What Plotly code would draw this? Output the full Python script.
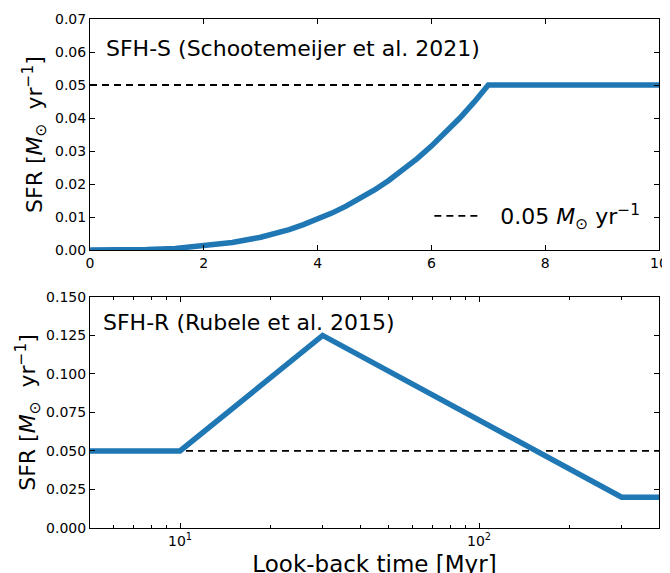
import plotly.graph_objects as go
from plotly.subplots import make_subplots

# Top panel: SFH-S
t_s = [0, 0.5, 1, 1.5, 2, 2.5, 3, 3.25, 3.5, 3.75, 4, 4.25, 4.5, 4.75, 5,
       5.25, 5.5, 5.75, 6, 6.25, 6.5, 6.75, 7, 10]
sfr_s = [0.0, 0.00002, 0.00015, 0.0005, 0.0012, 0.0023, 0.0039, 0.0050, 0.0062,
         0.0077, 0.0093, 0.0112, 0.0133, 0.0156, 0.0182, 0.0211, 0.0243, 0.0277,
         0.0315, 0.0356, 0.0400, 0.0448, 0.05, 0.05]
ref_x_top = [0, 7]
ref_y = 0.05

# Bottom panel: SFH-R
t_r = [5, 10, 30, 300, 400]
sfr_r = [0.05, 0.05, 0.125, 0.02, 0.02]
ref_x_bot = [5, 400]

blue = "#1f77b4"
font = "DejaVu Sans"

fig = make_subplots(rows=2, cols=1, vertical_spacing=0.09)

dash = dict(color="black", width=1.8, dash="7px,5px")
fig.add_trace(go.Scatter(x=ref_x_top, y=[ref_y, ref_y], mode="lines", line=dash,
                         name="\u2002\u00a00.05 <i>M</i><sub>⊙</sub> yr<sup>−1</sup>",
                         showlegend=True), row=1, col=1)
fig.add_trace(go.Scatter(x=t_s, y=sfr_s, mode="lines",
                         line=dict(color=blue, width=5.5), showlegend=False), row=1, col=1)

fig.add_trace(go.Scatter(x=ref_x_bot, y=[ref_y, ref_y], mode="lines", line=dash,
                         showlegend=False), row=2, col=1)
fig.add_trace(go.Scatter(x=t_r, y=sfr_r, mode="lines",
                         line=dict(color=blue, width=5.5), showlegend=False), row=2, col=1)

axis_common = dict(showline=True, linecolor="black", linewidth=1, mirror="ticks",
                   ticks="inside", ticklen=5, tickcolor="black", showgrid=False,
                   zeroline=False, automargin=False,
                   tickfont=dict(family=font, size=14, color="black"))

ylab = "SFR [<i>M</i><sub>⊙</sub>  yr<sup>−1</sup>]"

fig.update_xaxes(range=[0, 10], dtick=2, tick0=0, row=1, col=1, **axis_common)
fig.update_yaxes(range=[0, 0.07], dtick=0.01, tickformat=".2f", row=1, col=1,
                 title=dict(text=ylab, font=dict(family=font, size=22, color="black"), standoff=6),
                 **axis_common)

fig.update_xaxes(type="log", range=[0.699, 2.602], tickvals=[10, 100],
                 ticktext=["10<sup>1</sup>", "10<sup>2</sup>"],
                 minor=dict(ticks="inside", ticklen=3, tickcolor="black",
                            tickvals=[6, 7, 8, 9, 20, 30, 40, 50, 60, 70, 80, 90, 200, 300]),
                 title=dict(text="Look-back time [Myr]", font=dict(family=font, size=23, color="black"),
                            standoff=8),
                 row=2, col=1, **axis_common)
fig.update_yaxes(range=[0, 0.15], dtick=0.025, tickformat=".3f", row=2, col=1,
                 title=dict(text=ylab, font=dict(family=font, size=22, color="black"), standoff=4),
                 **axis_common)

fig.update_layout(
    width=670, height=573,
    margin=dict(l=82, r=19, t=11, b=53),
    paper_bgcolor="white", plot_bgcolor="white",
    font=dict(family=font, color="black"),
    legend=dict(x=0.976, y=0.613, xanchor="right", yanchor="middle",
                bgcolor="rgba(0,0,0,0)", font=dict(family=font, size=22, color="black"),
                itemwidth=43),
    annotations=[
        dict(text="SFH-S (Schootemeijer et al. 2021)", xref="x domain", yref="y domain",
             x=0.024, y=0.874, xanchor="left", yanchor="middle", showarrow=False,
             font=dict(family=font, size=22, color="black")),
        dict(text="SFH-R (Rubele et al. 2015)", xref="x2 domain", yref="y2 domain",
             x=0.02, y=0.89, xanchor="left", yanchor="middle", showarrow=False,
             font=dict(family=font, size=22, color="black")),
    ],
)
fig.update_yaxes(domain=[0.546, 1.0], row=1, col=1)
fig.update_yaxes(domain=[0.0, 0.454], row=2, col=1)

fig.write_html("out.html")
